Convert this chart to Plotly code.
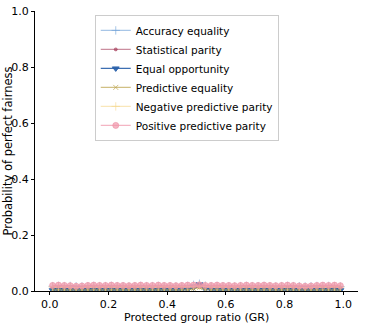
import plotly.graph_objects as go

# Protected group ratio values (x)
gr = [0.01, 0.03, 0.05, 0.07, 0.09, 0.11, 0.13, 0.15, 0.17, 0.19,
      0.21, 0.23, 0.25, 0.27, 0.29, 0.31, 0.33, 0.35, 0.37, 0.39,
      0.41, 0.43, 0.45, 0.47, 0.49, 0.51, 0.53, 0.55, 0.57, 0.59,
      0.61, 0.63, 0.65, 0.67, 0.69, 0.71, 0.73, 0.75, 0.77, 0.79,
      0.81, 0.83, 0.85, 0.87, 0.89, 0.91, 0.93, 0.95, 0.97, 0.99]

# Probability of perfect fairness per metric
accuracy_equality = [0.017, 0.018, 0.017, 0.018, 0.017, 0.016, 0.017, 0.018, 0.017, 0.017,
                     0.018, 0.017, 0.017, 0.016, 0.017, 0.018, 0.017, 0.017, 0.018, 0.017,
                     0.017, 0.016, 0.017, 0.018, 0.022, 0.026, 0.019, 0.017, 0.018, 0.017,
                     0.017, 0.016, 0.017, 0.018, 0.017, 0.017, 0.018, 0.017, 0.016, 0.017,
                     0.018, 0.017, 0.017, 0.016, 0.017, 0.018, 0.017, 0.018, 0.017, 0.016]
statistical_parity = [0.010, 0.011, 0.010, 0.009, 0.008, 0.009, 0.010, 0.011, 0.010, 0.010,
                      0.011, 0.010, 0.009, 0.010, 0.011, 0.010, 0.010, 0.009, 0.010, 0.011,
                      0.010, 0.010, 0.011, 0.010, 0.012, 0.014, 0.011, 0.010, 0.010, 0.011,
                      0.010, 0.009, 0.010, 0.011, 0.010, 0.010, 0.011, 0.010, 0.009, 0.010,
                      0.011, 0.010, 0.009, 0.008, 0.009, 0.010, 0.011, 0.010, 0.011, 0.010]
equal_opportunity = [0.003, 0.004, 0.003, 0.003, 0.004, 0.003, 0.003, 0.004, 0.003, 0.003,
                     0.004, 0.003, 0.003, 0.004, 0.003, 0.003, 0.004, 0.003, 0.003, 0.004,
                     0.003, 0.003, 0.004, 0.005, 0.012, 0.024, 0.006, 0.004, 0.003, 0.003,
                     0.004, 0.003, 0.003, 0.004, 0.003, 0.003, 0.004, 0.003, 0.003, 0.004,
                     0.003, 0.003, 0.004, 0.003, 0.003, 0.004, 0.003, 0.003, 0.004, 0.003]
predictive_equality = [0.004, 0.003, 0.004, 0.004, 0.003, 0.004, 0.004, 0.003, 0.004, 0.004,
                       0.003, 0.004, 0.004, 0.003, 0.004, 0.004, 0.003, 0.004, 0.004, 0.003,
                       0.004, 0.004, 0.003, 0.004, 0.008, 0.012, 0.005, 0.004, 0.003, 0.004,
                       0.004, 0.003, 0.004, 0.004, 0.003, 0.004, 0.004, 0.003, 0.004, 0.004,
                       0.003, 0.004, 0.004, 0.003, 0.004, 0.004, 0.003, 0.004, 0.004, 0.003]
negative_predictive_parity = [0.015, 0.014, 0.015, 0.014, 0.012, 0.013, 0.015, 0.014, 0.015, 0.015,
                              0.014, 0.015, 0.014, 0.015, 0.015, 0.014, 0.015, 0.014, 0.015, 0.015,
                              0.014, 0.015, 0.015, 0.014, 0.016, 0.018, 0.015, 0.014, 0.015, 0.015,
                              0.014, 0.015, 0.014, 0.015, 0.015, 0.014, 0.015, 0.015, 0.014, 0.015,
                              0.014, 0.015, 0.013, 0.012, 0.013, 0.015, 0.014, 0.015, 0.015, 0.014]
positive_predictive_parity = [0.020, 0.021, 0.020, 0.019, 0.017, 0.018, 0.020, 0.021, 0.020, 0.020,
                              0.021, 0.020, 0.020, 0.019, 0.020, 0.021, 0.020, 0.020, 0.021, 0.020,
                              0.020, 0.019, 0.020, 0.021, 0.021, 0.022, 0.020, 0.020, 0.021, 0.020,
                              0.020, 0.019, 0.020, 0.021, 0.020, 0.020, 0.021, 0.020, 0.019, 0.020,
                              0.021, 0.020, 0.018, 0.017, 0.018, 0.020, 0.021, 0.020, 0.021, 0.019]

series = [
    ("Accuracy equality", accuracy_equality, "rgba(110,160,215,0.6)", "cross-thin", 6),
    ("Statistical parity", statistical_parity, "rgba(160,50,80,0.55)", "circle", 3),
    ("Equal opportunity", equal_opportunity, "rgba(40,95,170,0.9)", "triangle-down", 6),
    ("Predictive equality", predictive_equality, "rgba(190,165,80,0.7)", "x-thin", 5),
    ("Negative predictive parity", negative_predictive_parity, "rgba(245,215,140,0.6)", "cross-thin", 6),
    ("Positive predictive parity", positive_predictive_parity, "rgba(240,150,170,0.7)", "circle", 6),
]

fig = go.Figure()
for name, vals, color, symbol, size in series:
    fig.add_trace(go.Scatter(
        x=gr, y=vals, name=name, mode="lines+markers",
        line=dict(color=color, width=1.3),
        marker=dict(symbol=symbol, size=size, color=color,
                    line=dict(color=color, width=1)),
    ))

axis_font = dict(family="DejaVu Sans", size=11, color="black")
title_font = dict(family="DejaVu Sans", size=11.5, color="black")
ticks = [0, 0.2, 0.4, 0.6, 0.8, 1.0]
tick_labels = ["0.0", "0.2", "0.4", "0.6", "0.8", "1.0"]

fig.update_layout(
    width=366, height=325,
    margin=dict(l=35, r=8, t=11, b=34),
    plot_bgcolor="white", paper_bgcolor="white",
    font=axis_font,
    showlegend=True,
    legend=dict(
        x=0.185, y=0.986, xanchor="left", yanchor="top",
        bgcolor="rgba(255,255,255,0.8)", bordercolor="#cccccc", borderwidth=1,
        font=dict(family="DejaVu Sans", size=10.5, color="black"),
        itemwidth=30, tracegroupgap=0,
    ),
    xaxis=dict(
        range=[-0.05, 1.05], tickvals=ticks, ticktext=tick_labels,
        showline=True, linecolor="black", linewidth=1,
        ticks="outside", ticklen=3, tickcolor="black",
        showgrid=False, zeroline=False, automargin=False,
    ),
    yaxis=dict(
        range=[0, 1.0], tickvals=ticks, ticktext=tick_labels,
        showline=True, linecolor="black", linewidth=1,
        ticks="outside", ticklen=3, tickcolor="black",
        showgrid=False, zeroline=False, automargin=False,
    ),
    annotations=[
        dict(text="Probability of perfect fairness", textangle=-90,
             xref="paper", yref="paper", x=-0.085, y=0.5,
             xanchor="center", yanchor="middle", showarrow=False, font=title_font),
        dict(text="Protected group ratio (GR)",
             xref="paper", yref="paper", x=0.5, y=-0.096,
             xanchor="center", yanchor="middle", showarrow=False,
             font=dict(family="DejaVu Sans", size=11, color="black")),
    ],
)

# drop the default page margin so the figure sits at the window's top-left
fig.write_html("out.html", config={"displayModeBar": False},
               post_script="document.body.style.margin = '0';")
